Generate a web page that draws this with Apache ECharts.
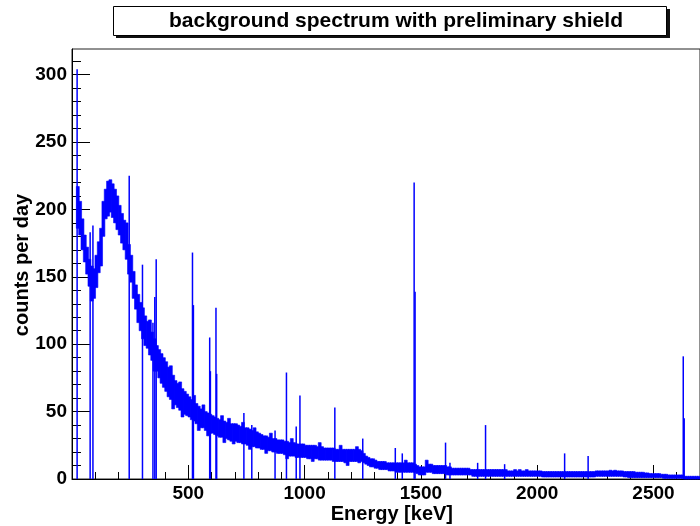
<!DOCTYPE html>
<html>
<head>
<meta charset="utf-8">
<script src="https://cdn.jsdelivr.net/npm/echarts@6/dist/echarts.min.js"></script>
<style>html,body{margin:0;padding:0;background:#fff}#c{width:700px;height:526px}</style>
</head>
<body>
<div id="c"></div>
<script>
// ---- data ----
// continuum: for every 10 keV bin, the lower and upper edge of the fluctuating band (counts per day)
const binWidth = 10;
const bandLow = [
  null, null, 186, 181, 170, 161, 152, 143, 132, 134,
  142, 153, 158, 180, 193, 195, 198, 194, 190, 185,
  181, 175, 170, 163, 152, 146, 134, 126, 116, 110,
  104, 99, 97, 92, 88, 80, 80, 75, 71, 68,
  65, 61, 59, 52, 55, 53, 51, 46, 48, 47,
  46, 44, 43, 41, 36, 38, 38, 36, 32, 34,
  34, 33, 32, 31, 31, 27, 30, 29, 28, 26,
  28, 27, 27, 26, 26, 25, 22, 24, 24, 23,
  23, 22, 22, 19, 21, 21, 20, 20, 19, 19,
  19, 18, 15, 17, 17, 17, 16, 16, 16, 16,
  16, 15, 15, 13, 15, 15, 14, 14, 14, 14,
  14, 14, 13, 13, 13, 13, 13, 12, 10, 13,
  13, 13, 13, 12, 13, 12, 11, 10, 9, 9,
  8, 8, 7, 7, 7, 7, 6, 6, 6, 5,
  5, 5, 5, 5, 5, 5, 5, 5, 4, 3,
  3, 3, 5, 5, 5, 4, 4, 4, 4, 4,
  4, 3, 3, 3, 3, 3, 3, 3, 3, 3,
  3, 3, 2, 2, 2, 2, 2, 2, 2, 2,
  2, 2, 2, 2, 2, 2, 2, 2, 2, 2,
  2, 2, 2, 2, 2, 2, 2, 2, 2, 2,
  2, 2, 1.5, 1.5, 1.5, 1.5, 1.5, 1.5, 1.5, 1.5,
  1.5, 1.5, 1.5, 1.5, 1.5, 1.5, 1.5, 1.5, 1.5, 1.5,
  1.5, 1.5, 1.5, 1.5, 1.5, 2, 2, 2, 2, 2,
  2, 2, 2, 2, 2, 2, 2, 1.5, 1.5, 1,
  1, 1, 1, 1, 1, 1, 1, 1, 1, 1,
  1, 1, 1, 1, 0.5, 0.5, 0.5, 0.5, 0.5, 0.5,
  0.5, 0.5, 0.5, 0, 0, 0, 0, 0, 0, 0
];
const bandHigh = [
  null, null, 217, 206, 193, 181, 172, 163, 158, 156,
  166, 176, 186, 206, 215, 221, 222, 219, 215, 210,
  203, 197, 192, 190, 174, 166, 154, 144, 137, 131,
  127, 121, 117, 118, 109, 104, 99, 96, 93, 90,
  87, 83, 84, 77, 73, 71, 72, 67, 65, 63,
  61, 59, 62, 56, 54, 52, 55, 50, 49, 48,
  47, 46, 45, 44, 47, 43, 42, 45, 41, 41,
  41, 40, 39, 42, 38, 38, 37, 36, 38, 35,
  34, 33, 32, 32, 31, 34, 30, 30, 29, 29,
  29, 28, 28, 27, 30, 27, 26, 26, 26, 26,
  25, 25, 25, 25, 25, 24, 27, 24, 23, 23,
  23, 23, 23, 22, 22, 25, 22, 22, 22, 22,
  22, 22, 24, 22, 21, 19, 17, 16, 15, 15,
  14, 13, 13, 13, 13, 12, 12, 12, 12, 12,
  12, 12, 12, 14, 12, 12, 12, 11, 10, 9,
  9, 9, 14, 11, 11, 10, 10, 10, 10, 10,
  10, 9, 9, 8, 8, 8, 8, 8, 8, 8,
  8, 7, 7, 7, 7, 7, 7, 7, 7, 7,
  7, 7, 7, 7, 7, 7, 7, 6, 6, 6,
  7, 6, 7, 6, 6, 7, 6, 6, 6, 6,
  6, 6, 5.5, 5.5, 5.5, 5.5, 5.5, 5.5, 5.5, 5.5,
  5.5, 5.5, 5.5, 5.5, 5.5, 5.5, 5.5, 5.5, 5.5, 5.5,
  5.5, 5.5, 5.5, 5.5, 5.5, 6, 6, 6, 6, 6,
  6, 6.5, 6, 6.5, 6, 6, 6, 5.5, 5.5, 5.5,
  5.5, 5.5, 5, 5, 5, 5, 4.5, 4.5, 4, 4,
  4, 4, 4, 3.5, 3.5, 3.5, 3, 3, 3, 3,
  3, 3, 3, 2, 2, 2, 2, 2, 2, 2
];
// narrow lines (keV, counts per day)
const peakEnergies = [22, 78, 90, 246, 303, 348, 356, 362, 518, 522, 592, 595, 619, 622, 739, 773, 873, 922, 964, 980, 1130, 1250, 1390, 1420, 1471, 1475, 1606, 1625, 1744, 1778, 1860, 2118, 2219, 2628, 2632];
const peakHeights  = [304, 183, 188, 225, 159, 116, 135, 163, 168, 129, 105, 80, 127, 78, 49, 40, 36, 79, 39, 62, 53, 30, 23, 19, 220, 139, 27, 12, 12, 40, 11, 19, 17, 91, 45];

const xMajorTicks = [500, 1000, 1500, 2000, 2500];
const xMinorTicks = [100, 200, 300, 400, 600, 700, 800, 900, 1100, 1200, 1300, 1400, 1600, 1700, 1800, 1900, 2100, 2200, 2300, 2400, 2600, 2700];
const yMajorTicks = [0, 50, 100, 150, 200, 250, 300];
const yMinorTicks = [10, 20, 30, 40, 60, 70, 80, 90, 110, 120, 130, 140, 160, 170, 180, 190, 210, 220, 230, 240, 260, 270, 280, 290, 310];

const titleText = 'background spectrum with preliminary shield';
const xTitle = 'Energy [keV]';
const yTitle = 'counts per day';
const xRange = [0, 2700];
const yRange = [0, 319];

// ---- chart ----
const FONT = '"Liberation Sans", Arial, Helvetica, sans-serif';
const BLUE = '#0000ff';
const chart = echarts.init(document.getElementById('c'), null, {renderer: 'canvas'});
const bandData = [];
bandLow.forEach((lo, i) => {
  if (lo !== null && bandHigh[i] !== null) bandData.push([i * binWidth, lo, bandHigh[i]]);
});
const peakData = peakEnergies.map((e, i) => [e, peakHeights[i]]);

const axisCommon = {type: 'value', splitLine: {show: false}, minorTick: {show: false}};
const plainNum = v => String(v);

const option = {
  animation: false,
  backgroundColor: '#fff',
  grid: {left: 72, top: 49, width: 634, height: 430, show: true, borderColor: '#222', borderWidth: 1, backgroundColor: 'transparent'},
  xAxis: [
    Object.assign({}, axisCommon, {
      min: xRange[0], max: xRange[1], position: 'bottom',
      axisLine: {show: true, lineStyle: {color: '#000', width: 1}},
      axisTick: {show: true, inside: true, length: 14, customValues: xMajorTicks, lineStyle: {color: '#000', width: 1}},
      axisLabel: {show: true, customValues: xMajorTicks, formatter: plainNum, margin: 5, color: '#000', fontFamily: FONT, fontWeight: 'bold', fontSize: 19}
    }),
    Object.assign({}, axisCommon, {
      min: xRange[0], max: xRange[1], position: 'bottom',
      axisLine: {show: false},
      axisTick: {show: true, inside: true, length: 7, customValues: xMinorTicks, lineStyle: {color: '#000', width: 1}},
      axisLabel: {show: false}
    })
  ],
  yAxis: [
    Object.assign({}, axisCommon, {
      min: yRange[0], max: yRange[1], position: 'left',
      axisLine: {show: true, lineStyle: {color: '#000', width: 1}},
      axisTick: {show: true, inside: true, length: 18, customValues: yMajorTicks, lineStyle: {color: '#000', width: 1}},
      axisLabel: {show: true, customValues: yMajorTicks, formatter: plainNum, margin: 5, color: '#000', fontFamily: FONT, fontWeight: 'bold', fontSize: 19}
    }),
    Object.assign({}, axisCommon, {
      min: yRange[0], max: yRange[1], position: 'left', offset: 0,
      axisLine: {show: false},
      axisTick: {show: true, inside: true, length: 9, customValues: yMinorTicks, lineStyle: {color: '#000', width: 1}},
      axisLabel: {show: false}
    })
  ],
  series: [
    {
      type: 'custom', data: bandData, xAxisIndex: 0, yAxisIndex: 0, z: 3,
      encode: {x: 0, y: [1, 2]},
      renderItem: function (params, api) {
        const e0 = api.value(0), lo = api.value(1), hi = api.value(2);
        const pTop = api.coord([e0, hi]);
        const pBot = api.coord([e0 + binWidth, lo]);
        return {
          type: 'rect',
          shape: {x: pTop[0] - 0.3, y: pTop[1], width: pBot[0] - pTop[0] + 0.6, height: Math.max(1, pBot[1] - pTop[1])},
          style: {fill: BLUE, stroke: BLUE, lineWidth: 0.6}
        };
      }
    },
    {
      type: 'bar', data: peakData, barWidth: 1.5, xAxisIndex: 0, yAxisIndex: 0,
      itemStyle: {color: BLUE}, z: 4
    }
  ],
  graphic: [
    {type: 'rect', shape: {x: 116, y: 9, width: 554, height: 29}, style: {fill: '#111'}, z: 10},
    {type: 'rect', shape: {x: 113.5, y: 6.5, width: 553, height: 29}, style: {fill: '#fff', stroke: '#000', lineWidth: 1}, z: 11},
    {type: 'text', x: 396, y: 21, style: {text: titleText, align: 'center', verticalAlign: 'middle', font: 'bold 21px ' + FONT, fill: '#000'}, z: 12},
    {type: 'text', x: 453, y: 514, style: {text: xTitle, align: 'right', verticalAlign: 'middle', font: 'bold 20px ' + FONT, fill: '#000'}, z: 12},
    {type: 'text', x: 22, y: 265, rotation: Math.PI / 2, style: {text: yTitle, align: 'center', verticalAlign: 'middle', font: 'bold 20px ' + FONT, fill: '#000'}, z: 12}
  ]
};
chart.setOption(option);
</script>
</body>
</html>
